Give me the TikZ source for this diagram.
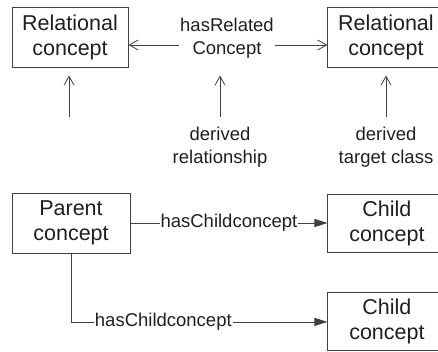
\documentclass[tikz,border=0pt]{standalone}
\usepackage{fontspec}
\setmainfont{Liberation Sans}
\usetikzlibrary{arrows.meta, positioning}
\definecolor{linegray}{gray}{0.25}
\definecolor{textgray}{gray}{0.12}
\tikzstyle{box}    = [draw=linegray, line width=0.9pt, minimum height=60pt, text width=110pt,
                      align=center, inner sep=0pt, text=textgray, font=\fontsize{21.5}{25}\selectfont]
\tikzstyle{lbl}    = [align=center, inner sep=1pt, text=textgray, font=\fontsize{18.5}{22.5}\selectfont]
\tikzstyle{open}   = [draw=linegray, line width=0.8pt, -{Straight Barb[length=9pt,width=10pt]}]
\tikzstyle{filled} = [draw=linegray, line width=0.8pt, -{Triangle[length=13pt,width=8pt]}]
\tikzstyle{plain}  = [draw=linegray, line width=0.8pt]

\begin{document}
\begin{tikzpicture}[x=1pt, y=1pt]
\useasboundingbox (0,0) rectangle (438,351);

% relational concepts
\node [box, minimum width=116pt]                    (rc1) at (70,314) {Relational\\concept};
\node [box, minimum width=116pt, right=199pt of rc1] (rc2) {Relational\\concept};
\node [lbl]                                         (rel) at (227,313) {hasRelated\\Concept};

\path [open] ([yshift=-7pt]rel.west) -- ([yshift=-7pt]rel.west -| rc1.east);
\path [open] ([yshift=-7pt]rel.east) -- ([yshift=-7pt]rel.east -| rc2.west);

% derived things
\node [lbl]  (drel) at (220,204) {derived\\relationship};
\node [lbl]  (dtgt) at (386,204) {derived\\target class};
\coordinate (d1) at (69,234);
\coordinate (d2) at (220,234);
\coordinate (d3) at (386,234);

\path [open, shorten >=8pt] (d1) -- (d1 |- rc1.south);
\path [open, shorten >=8pt] (d2) -- (d2 |- rc1.south);
\path [open, shorten >=8pt] (d3) -- (d3 |- rc2.south);

% parent and children
\node [box, minimum width=118pt]                      (pc)  at (71,128) {Parent\\concept};
\node [box, minimum width=118pt, minimum height=58pt,
       right=197pt of pc]                             (cc1) {Child\\concept};
\node [box, minimum width=118pt, minimum height=58pt,
       below=40pt of cc1]                             (cc2) {Child\\concept};

\path [filled] (pc) -- node [lbl, fill=white] {hasChildconcept} (cc1);
\path [filled] (pc.south) |- node [lbl, fill=white, pos=0.68] {hasChildconcept} (cc2);

\end{tikzpicture}
\end{document}
